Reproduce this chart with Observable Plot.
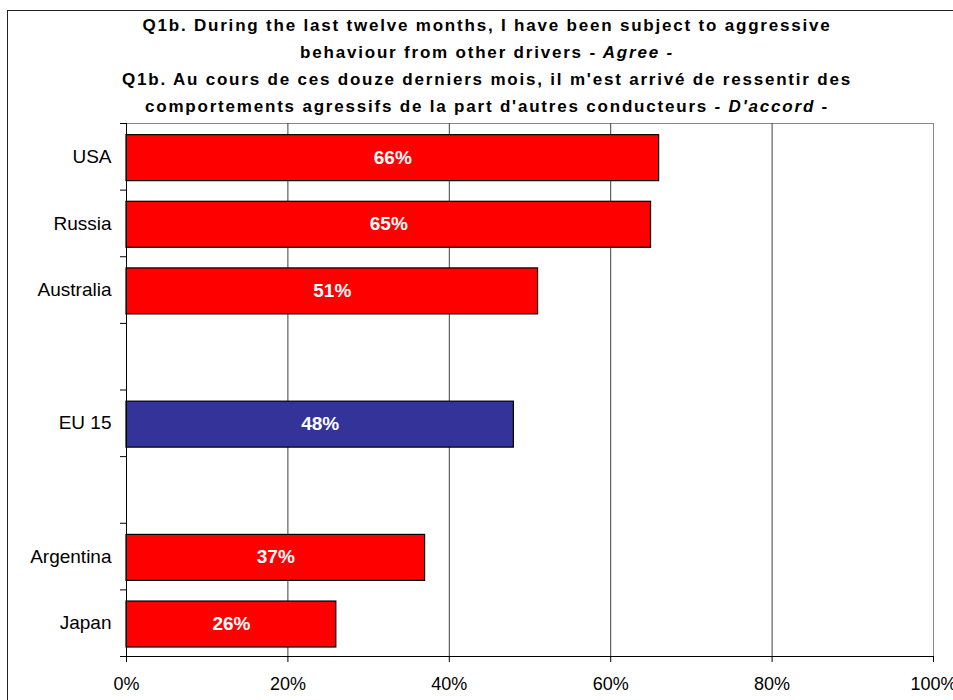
<!DOCTYPE html>
<html>
<head>
<meta charset="utf-8">
<script src="https://cdn.jsdelivr.net/npm/d3@7"></script>
<script src="https://cdn.jsdelivr.net/npm/@observablehq/plot@0.6"></script>
<style>
  html, body { margin: 0; padding: 0; background: #fff; }
  #chart { position: relative; width: 953px; height: 700px; overflow: hidden; font-family: "Liberation Sans", Arial, sans-serif; }
  #frame { position: absolute; left: 7px; top: 10px; width: 1000px; height: 1000px; border-left: 1px solid #222; border-top: 1px solid #222; pointer-events: none; }
  #title { position: relative; margin-left: 7px; width: 960px; padding-top: 12px; text-align: center; font-weight: bold; font-size: 17px; line-height: 27px; letter-spacing: 1.8px; color: #000; white-space: nowrap; }
  #title .l { display: block; height: 27px; }
  #plot svg { display: block; }
</style>
</head>
<body>
<div id="chart">
  <div id="frame"></div>
  <div id="title">
    <span class="l">Q1b. During the last twelve months, I have been subject to aggressive</span>
    <span class="l">behaviour from other drivers <i>- Agree -</i></span>
    <span class="l">Q1b. Au cours de ces douze derniers mois, il m'est arrivé de ressentir des</span>
    <span class="l">comportements agressifs de la part d'autres conducteurs <i>- D'accord -</i></span>
  </div>
  <div id="plot"></div>
</div>
<script>
// Data (null entries are the empty gaps between groups)
const categories = ["USA", "Russia", "Australia", null, "EU 15", null, "Argentina", "Japan"];
const values = [66, 65, 51, null, 48, null, 37, 26];
const benchmark = "EU 15";
const xTicks = [0, 20, 40, 60, 80, 100];
const gridTicks = [20, 40, 60, 80];

const rows = categories
  .map((name, i) => ({name, value: values[i], slot: i}))
  .filter(d => d.name !== null);

const nSlots = categories.length;
const RED = "#FF0000", BLUE = "#333399";

const chart = Plot.plot({
  width: 953,
  height: 580,
  marginTop: 3,
  marginBottom: 44,
  marginLeft: 126,
  marginRight: 20,
  style: {fontFamily: "'Liberation Sans', Arial, sans-serif", fontSize: "19px", color: "#000", background: "transparent", overflow: "visible"},
  x: {domain: [0, 100]},
  y: {domain: [0, nSlots], reverse: true},
  marks: [
    Plot.frame({stroke: "#888"}),
    Plot.ruleX(gridTicks, {stroke: "#404040"}),
    Plot.rectX(rows, {
      x1: 0, x2: "value",
      y1: d => d.slot + 0.175, y2: d => d.slot + 0.865,
      fill: d => d.name === benchmark ? BLUE : RED,
      stroke: "#000", strokeWidth: 1.2
    }),
    Plot.text(rows, {
      x: d => d.value / 2, y: d => d.slot + 0.51,
      text: d => d.value + "%",
      fill: "#fff", fontWeight: "bold", fontSize: 19
    }),
    Plot.ruleX([0], {stroke: "#000"}),
    Plot.ruleY([nSlots], {stroke: "#000"}),
    Plot.axisX({ticks: xTicks, tickFormat: d => d + "%", tickSize: 6, tickPadding: 15, label: null, fontSize: 18}),
    Plot.axisY({ticks: d3.range(0, nSlots + 1), tickSize: 6, tickFormat: () => "", label: null}),
    Plot.axisY({ticks: rows.map(d => d.slot + 0.5), tickSize: 0, tickPadding: 15, tickFormat: v => categories[Math.floor(v)], label: null, fontSize: 19})
  ]
});
document.getElementById("plot").appendChild(chart);
</script>
</body>
</html>
